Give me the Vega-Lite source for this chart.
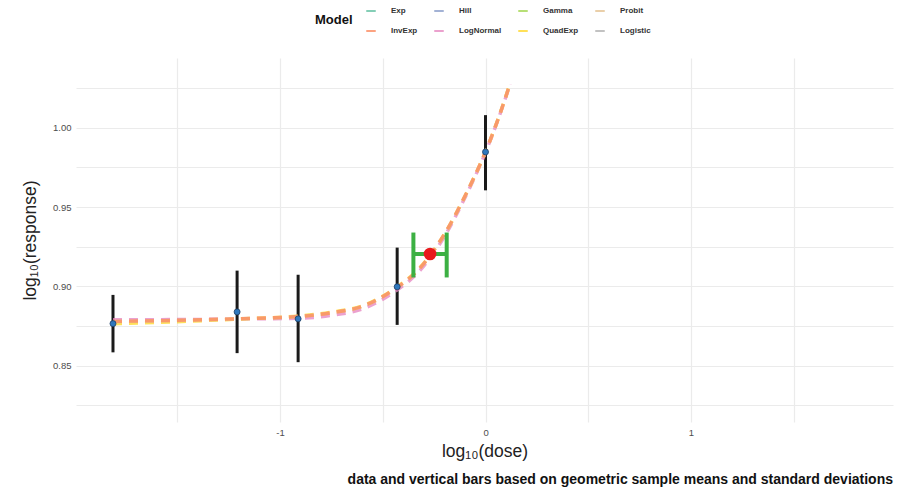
{
  "$schema": "https://vega.github.io/schema/vega-lite/v6.json",
  "width": 817,
  "height": 364,
  "autosize": {"type": "none"},
  "padding": {"left": 76, "top": 58, "right": 6, "bottom": 69},
  "background": "white",
  "config": {
    "font": "Liberation Sans",
    "view": {"stroke": null},
    "axis": {"domain": false, "ticks": false, "gridColor": "#ebebeb", "gridWidth": 1.2, "labelColor": "#4d4d4d", "labelFontSize": 9.5, "titleFontWeight": "normal", "titleFontSize": 17.5, "titleColor": "#222222"}
  },
  "title": {"text": "data and vertical bars based on geometric sample means and standard deviations", "orient": "bottom", "anchor": "end", "fontSize": 14, "fontWeight": "bold", "color": "#111111", "offset": 13},
  "datasets": {
    "obs": [
      {"ld": -1.813, "lr": 0.8766, "lo": 0.8585, "hi": 0.8947},
      {"ld": -1.209, "lr": 0.884, "lo": 0.858, "hi": 0.910},
      {"ld": -0.912, "lr": 0.8796, "lo": 0.8523, "hi": 0.9074},
      {"ld": -0.43, "lr": 0.8998, "lo": 0.8758, "hi": 0.9245},
      {"ld": 0.0, "lr": 0.9848, "lo": 0.9606, "hi": 1.008}
    ],
    "bmd": [
      {"ld": -0.27, "lr": 0.9205, "lo": -0.351, "hi": -0.189, "clo": 0.9057, "chi": 0.934}
    ],
    "curves": [
      {"Model": "LogNormal", "ld": -1.813, "lr": 0.8790},
      {"Model": "LogNormal", "ld": -1.5, "lr": 0.8792},
      {"Model": "LogNormal", "ld": -1.2, "lr": 0.8795},
      {"Model": "LogNormal", "ld": -0.9, "lr": 0.8800},
      {"Model": "LogNormal", "ld": -0.75, "lr": 0.8818},
      {"Model": "LogNormal", "ld": -0.6, "lr": 0.8858},
      {"Model": "LogNormal", "ld": -0.45, "lr": 0.8960},
      {"Model": "LogNormal", "ld": -0.32, "lr": 0.9100},
      {"Model": "LogNormal", "ld": -0.2, "lr": 0.9315},
      {"Model": "LogNormal", "ld": -0.1, "lr": 0.9560},
      {"Model": "LogNormal", "ld": 0.0, "lr": 0.9845},
      {"Model": "LogNormal", "ld": 0.06, "lr": 1.0048},
      {"Model": "LogNormal", "ld": 0.12, "lr": 1.0275},
      {"Model": "QuadExp", "ld": -1.813, "lr": 0.8765},
      {"Model": "QuadExp", "ld": -1.5, "lr": 0.8778},
      {"Model": "QuadExp", "ld": -1.2, "lr": 0.8795},
      {"Model": "QuadExp", "ld": -0.9, "lr": 0.8815},
      {"Model": "QuadExp", "ld": -0.75, "lr": 0.8838},
      {"Model": "QuadExp", "ld": -0.6, "lr": 0.8878},
      {"Model": "QuadExp", "ld": -0.45, "lr": 0.8980},
      {"Model": "QuadExp", "ld": -0.32, "lr": 0.9118},
      {"Model": "QuadExp", "ld": -0.2, "lr": 0.9330},
      {"Model": "QuadExp", "ld": -0.1, "lr": 0.9570},
      {"Model": "QuadExp", "ld": 0.0, "lr": 0.9850},
      {"Model": "QuadExp", "ld": 0.06, "lr": 1.0052},
      {"Model": "QuadExp", "ld": 0.12, "lr": 1.0282},
      {"Model": "Probit", "ld": -1.813, "lr": 0.8778},
      {"Model": "Probit", "ld": -1.5, "lr": 0.8786},
      {"Model": "Probit", "ld": -1.2, "lr": 0.8796},
      {"Model": "Probit", "ld": -0.9, "lr": 0.8812},
      {"Model": "Probit", "ld": -0.75, "lr": 0.8834},
      {"Model": "Probit", "ld": -0.6, "lr": 0.8874},
      {"Model": "Probit", "ld": -0.45, "lr": 0.8976},
      {"Model": "Probit", "ld": -0.32, "lr": 0.9114},
      {"Model": "Probit", "ld": -0.2, "lr": 0.9328},
      {"Model": "Probit", "ld": -0.1, "lr": 0.9568},
      {"Model": "Probit", "ld": 0.0, "lr": 0.9848},
      {"Model": "Probit", "ld": 0.06, "lr": 1.0050},
      {"Model": "Probit", "ld": 0.12, "lr": 1.0280},
      {"Model": "InvExp", "ld": -1.813, "lr": 0.8780},
      {"Model": "InvExp", "ld": -1.5, "lr": 0.8787},
      {"Model": "InvExp", "ld": -1.2, "lr": 0.8797},
      {"Model": "InvExp", "ld": -0.9, "lr": 0.8812},
      {"Model": "InvExp", "ld": -0.75, "lr": 0.8835},
      {"Model": "InvExp", "ld": -0.6, "lr": 0.8875},
      {"Model": "InvExp", "ld": -0.45, "lr": 0.8977},
      {"Model": "InvExp", "ld": -0.32, "lr": 0.9115},
      {"Model": "InvExp", "ld": -0.2, "lr": 0.9330},
      {"Model": "InvExp", "ld": -0.1, "lr": 0.9570},
      {"Model": "InvExp", "ld": 0.0, "lr": 0.9850},
      {"Model": "InvExp", "ld": 0.06, "lr": 1.0050},
      {"Model": "InvExp", "ld": 0.12, "lr": 1.0280}
    ]
  },
  "layer": [
    {
      "data": {"name": "obs"},
      "mark": {"type": "rule", "color": "#1a1a1a", "strokeWidth": 3},
      "encoding": {
        "x": {"field": "ld", "type": "quantitative", "scale": {"domain": [-1.993, 1.983], "nice": false, "zero": false},
          "axis": {"values": [-1.5, -1, -0.5, 0, 0.5, 1, 1.5], "labelExpr": "datum.value % 1 == 0 ? '' + datum.value : ''", "labelPadding": 5, "title": "log₁₀(dose)", "titlePadding": 6}},
        "y": {"field": "lo", "type": "quantitative", "scale": {"domain": [0.8146, 1.044], "nice": false, "zero": false},
          "axis": {"values": [0.825, 0.85, 0.875, 0.9, 0.925, 0.95, 0.975, 1.0, 1.025], "labelExpr": "indexof(['0.85','0.90','0.95','1.00'], format(datum.value, '.2f')) >= 0 ? format(datum.value, '.2f') : ''", "labelPadding": 5, "title": "log₁₀(response)", "titlePadding": 13}},
        "y2": {"field": "hi"}
      }
    },
    {
      "data": {"name": "curves"},
      "mark": {"type": "line", "strokeWidth": 3.4, "interpolate": "monotone", "strokeDash": [9, 7], "opacity": 0.8},
      "encoding": {
        "x": {"field": "ld", "type": "quantitative"},
        "y": {"field": "lr", "type": "quantitative"},
        "color": {"field": "Model", "type": "nominal",
          "scale": {"domain": ["Exp", "Hill", "Gamma", "Probit", "InvExp", "LogNormal", "QuadExp", "Logistic"],
                    "range": ["#66C2A5", "#8DA0CB", "#A6D854", "#E5C494", "#FC8D62", "#E78AC3", "#FFD92F", "#B3B3B3"]},
          "legend": {"orient": "none", "legendX": 239, "legendY": -53, "direction": "horizontal", "columns": 4, "title": "Model", "titleOrient": "left", "titleFontSize": 13, "titleFontWeight": "bold", "titleColor": "#111111", "titleBaseline": "middle", "titlePadding": 12, "labelFontSize": 8, "labelFontWeight": "bold", "labelColor": "#333333", "labelOffset": 14, "symbolType": "stroke", "symbolSize": 90, "symbolStrokeWidth": 2, "symbolDash": [], "symbolOpacity": 0.8, "columnPadding": 12, "rowPadding": 10}
        },
        "order": {"field": "ld", "type": "quantitative"}
      }
    },
    {
      "data": {"name": "obs"},
      "mark": {"type": "point", "filled": true, "color": "#2f78bd", "stroke": "#1d3f66", "strokeWidth": 0.8, "size": 36, "opacity": 1},
      "encoding": {
        "x": {"field": "ld", "type": "quantitative"},
        "y": {"field": "lr", "type": "quantitative"}
      }
    },
    {
      "data": {"name": "bmd"},
      "mark": {"type": "rule", "color": "#3cb043", "strokeWidth": 4},
      "encoding": {
        "x": {"field": "lo", "type": "quantitative"},
        "x2": {"field": "hi"},
        "y": {"field": "lr", "type": "quantitative"}
      }
    },
    {
      "data": {"name": "bmd"},
      "mark": {"type": "rule", "color": "#3cb043", "strokeWidth": 4},
      "encoding": {
        "x": {"field": "lo", "type": "quantitative"},
        "y": {"field": "clo", "type": "quantitative"},
        "y2": {"field": "chi"}
      }
    },
    {
      "data": {"name": "bmd"},
      "mark": {"type": "rule", "color": "#3cb043", "strokeWidth": 4},
      "encoding": {
        "x": {"field": "hi", "type": "quantitative"},
        "y": {"field": "clo", "type": "quantitative"},
        "y2": {"field": "chi"}
      }
    },
    {
      "data": {"name": "bmd"},
      "mark": {"type": "point", "filled": true, "color": "#e8191c", "size": 160, "opacity": 1},
      "encoding": {
        "x": {"field": "ld", "type": "quantitative"},
        "y": {"field": "lr", "type": "quantitative"}
      }
    }
  ]
}
